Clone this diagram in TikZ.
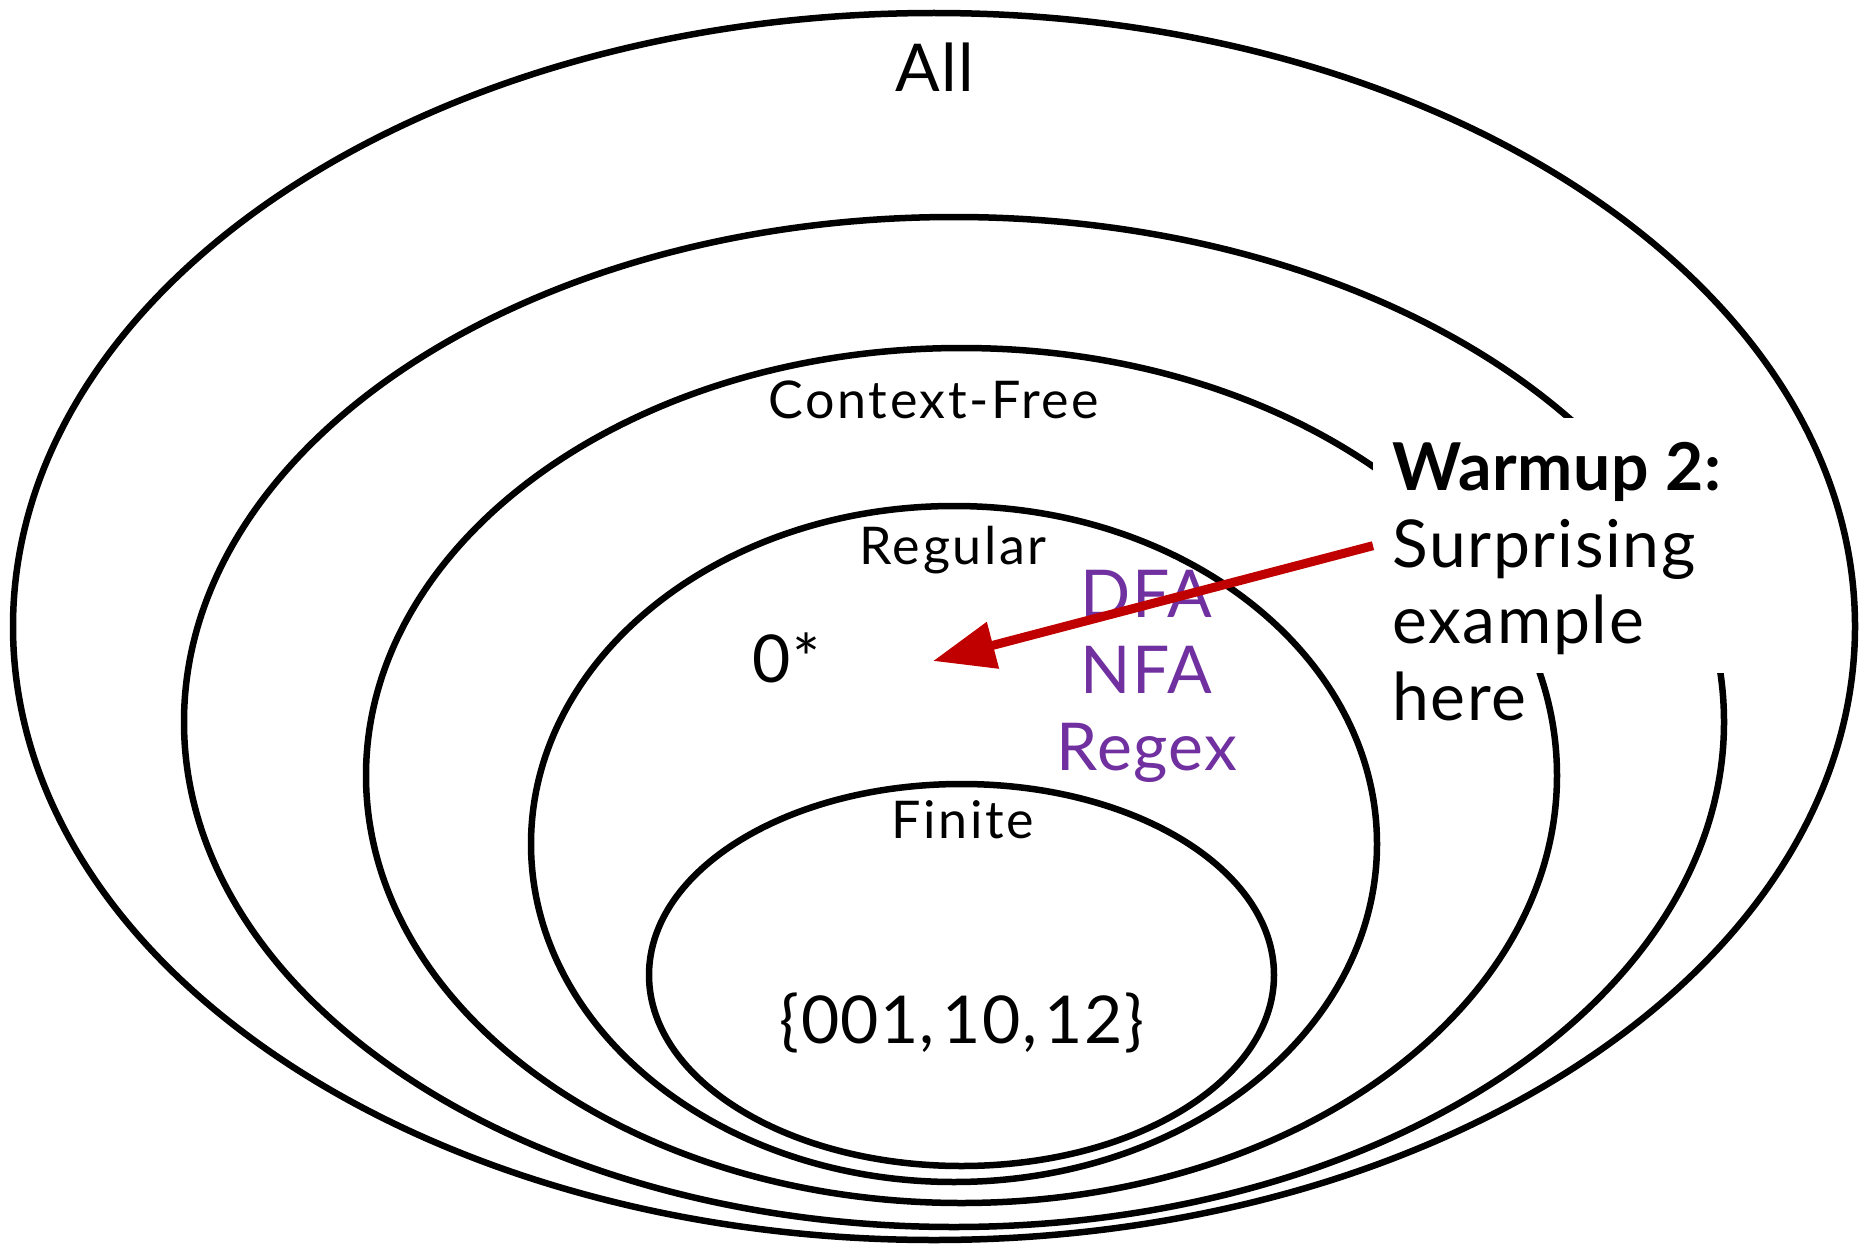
\documentclass[tikz,border=0pt]{standalone}
\usepackage{fontspec}
\setmainfont{Lato}
\usetikzlibrary{arrows.meta}
\definecolor{setpurple}{HTML}{7030A0}
\definecolor{arrowred}{HTML}{C00000}
\begin{document}
\begin{tikzpicture}[x=1pt,y=-1pt,
  setline/.style={line width=6.5pt},
  bigfont/.style={font=\fontsize{66}{77}\selectfont\addfontfeatures{LetterSpace=2.5}},
  biglabel/.style={bigfont, inner sep=0pt, anchor=base},
  smalllabel/.style={font=\fontsize{52}{62}\selectfont\addfontfeatures{LetterSpace=5},
                     inner sep=0pt, anchor=base},
  modellabel/.style={biglabel, text=setpurple},
  noteline/.style={bigfont, inner sep=0pt, anchor=base west},
  notehead/.style={noteline,
                   font=\fontsize{66}{77}\selectfont\bfseries\addfontfeatures{LetterSpace=1}}]
\useasboundingbox (0,0) rectangle (1864,1244);

% nested classes of languages, outermost first
\draw[setline] (934,626.5) ellipse [x radius=921pt, y radius=613.5pt];
\draw[setline] (954,722) ellipse [x radius=770pt, y radius=505pt];
\draw[setline] (961.5,775.5) ellipse [x radius=595.5pt, y radius=427.5pt];
\draw[setline] (954,844) ellipse [x radius=423pt, y radius=338pt];
\draw[setline] (961.5,975) ellipse [x radius=312.5pt, y radius=191pt];

% white panel behind the note, breaking the rings it overlaps
\node[fill=white, inner sep=0pt, minimum width=387pt, minimum height=255pt,
      anchor=north west] (notebox) at (1373,418) {};

% class names and examples
\node[biglabel] (all) at (935,92) {All};
\node[smalllabel] (cfl) at (934,418) {Context-Free};
\node[smalllabel] (reg) at (953,564) {Regular};
\node[biglabel] (zerostar) at (786.5,682) {0*};
\node[smalllabel] (fin) at (963,838) {Finite};
\node[biglabel, font=\fontsize{66}{77}\selectfont\addfontfeatures{LetterSpace=2}]
  (finset) at (962,1043) {\{001,\hspace{0.12em}10,\hspace{0.12em}12\}};

% equivalent models for regular languages
\node[modellabel] (dfa) at (1146,617) {DFA};
\node[modellabel] (nfa) at (1146,693) {NFA};
\node[modellabel] (regex) at (1147,770) {Regex};

% the note
\node[notehead] (warm) at (1392,490) {Warmup 2:};
\node[noteline] (surp) at (1392,567) {Surprising};
\node[noteline] (exam) at (1392,643) {example};
\node[noteline] (here) at (1392,720) {here};

% pointer from the note into the regular class
\coordinate (target) at (933,661);
\draw[arrowred, line width=9pt, -{Triangle[length=62pt,width=46pt]}]
  (notebox.west) -- (target);
\end{tikzpicture}
\end{document}
